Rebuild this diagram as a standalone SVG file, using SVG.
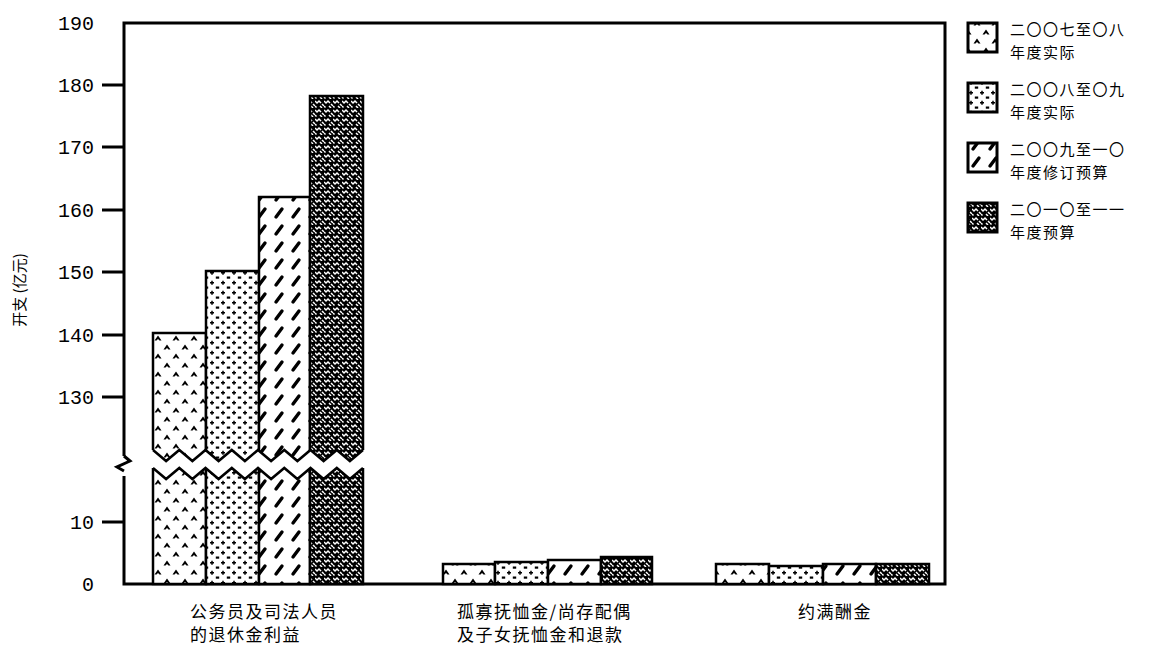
<svg xmlns="http://www.w3.org/2000/svg" width="1159" height="645" viewBox="0 0 1159 645">
<style>
.ax{stroke:#000;stroke-width:3;fill:none}
.bar{stroke:#000;stroke-width:2.5}
.tk{font-family:"Liberation Mono",monospace;font-size:20px;fill:#000;text-anchor:end}
.cj{font-family:"Noto Sans CJK SC","Noto Sans",sans-serif;font-size:17px;fill:#000;letter-spacing:1.5px}
.lg{font-family:"Noto Sans CJK SC","Noto Sans",sans-serif;font-size:15px;fill:#000;letter-spacing:1.5px}
.zz{stroke:#000;stroke-width:2.5;fill:none;stroke-linejoin:miter}
</style>
<defs>
<pattern id="p07" patternUnits="userSpaceOnUse" width="18" height="18">
<rect width="18" height="18" fill="#fff"/>
<path d="M1.5,7.5 L5,2.5 L8.5,7.5 L6.5,7.5 L5,6 L3.5,7.5 Z" fill="#000"/>
<path d="M10.5,16.5 L14,11.5 L17.5,16.5 L15.5,16.5 L14,15 L12.5,16.5 Z" fill="#000"/>
</pattern>
<pattern id="p08" patternUnits="userSpaceOnUse" width="11" height="10">
<rect width="11" height="10" fill="#fff"/>
<path d="M3,0.8 V4.8 M1,2.8 H5" stroke="#000" stroke-width="1.5"/>
<rect x="6.8" y="6.5" width="3.4" height="2.2" fill="#000"/>
</pattern>
<pattern id="p09" patternUnits="userSpaceOnUse" width="17" height="17">
<rect width="17" height="17" fill="#fff"/>
<path d="M4,13 L10,5" stroke="#000" stroke-width="3.4" stroke-linecap="round"/>
</pattern>
<pattern id="p10" patternUnits="userSpaceOnUse" width="9" height="9">
<rect width="9" height="9" fill="#000"/>
<path d="M0,2 L2,4 L4,2 L6,4 M5,7 L7,9 M7,5 L9,7 M0,7 L1.5,8.5" stroke="#fff" stroke-width="1.5" fill="none"/>
</pattern>
</defs>

<g id="axes">
<path class="ax" d="M124,456 V23 H945 V584 H124 V476"/>
<path class="ax" d="M124,456 L130,461 L117,467 L124,471" stroke-width="2.5"/>
<path class="ax" d="M102,85 H124 M102,147 H124 M102,210 H124 M102,272 H124 M102,335 H124 M102,397 H124 M102,522 H124"/>
<g id="ticklabels">
<text class="tk" x="94" y="30">190</text>
<text class="tk" x="94" y="92">180</text>
<text class="tk" x="94" y="154">170</text>
<text class="tk" x="94" y="217">160</text>
<text class="tk" x="94" y="279">150</text>
<text class="tk" x="94" y="342">140</text>
<text class="tk" x="94" y="404">130</text>
<text class="tk" x="94" y="529">10</text>
<text class="tk" x="94" y="591">0</text>
</g>
<text transform="translate(25,290) rotate(-90)" text-anchor="middle" style="font-family:'Noto Sans CJK SC','Noto Sans',sans-serif;font-size:15px">开支 (亿元)</text>
</g>

<g id="group1">
<rect class="bar" x="153" y="333" width="53" height="251" fill="url(#p07)"/>
<rect class="bar" x="206" y="271" width="53" height="313" fill="url(#p08)"/>
<rect class="bar" x="259" y="197" width="51" height="387" fill="url(#p09)"/>
<rect class="bar" x="310" y="96" width="53" height="488" fill="url(#p10)"/>
<polygon fill="#fff" points="151,450 153,450 166.1,461 179.3,450 192.4,461 205.5,450 218.6,461 231.8,450 244.9,461 258,450 271.1,461 284.3,450 297.4,461 310.5,450 323.6,461 336.8,450 349.9,461 363,450 365,450 365,468 363,468 349.9,479 336.8,468 323.6,479 310.5,468 297.4,479 284.3,468 271.1,479 258,468 244.9,479 231.8,468 218.6,479 205.5,468 192.4,479 179.3,468 166.1,479 153,468 151,468"/>
<polyline class="zz" points="153,450 166.1,461 179.3,450 192.4,461 205.5,450 218.6,461 231.8,450 244.9,461 258,450 271.1,461 284.3,450 297.4,461 310.5,450 323.6,461 336.8,450 349.9,461 363,450"/>
<polyline class="zz" points="153,468 166.1,479 179.3,468 192.4,479 205.5,468 218.6,479 231.8,468 244.9,479 258,468 271.1,479 284.3,468 297.4,479 310.5,468 323.6,479 336.8,468 349.9,479 363,468"/>
<text class="cj" x="190" y="618">公务员及司法人员</text>
<text class="cj" x="190" y="641">的退休金利益</text>
</g>

<g id="group2">
<rect class="bar" x="443" y="564" width="52" height="20" fill="url(#p07)"/>
<rect class="bar" x="495" y="562" width="53" height="22" fill="url(#p08)"/>
<rect class="bar" x="548" y="560" width="53" height="24" fill="url(#p09)"/>
<rect class="bar" x="601" y="557" width="51" height="27" fill="url(#p10)"/>
<text class="cj" x="457" y="618">孤寡抚恤金/尚存配偶</text>
<text class="cj" x="457" y="641">及子女抚恤金和退款</text>
</g>

<g id="group3">
<rect class="bar" x="716" y="564" width="53" height="20" fill="url(#p07)"/>
<rect class="bar" x="769" y="566" width="54" height="18" fill="url(#p08)"/>
<rect class="bar" x="823" y="564" width="53" height="20" fill="url(#p09)"/>
<rect class="bar" x="876" y="564" width="53" height="20" fill="url(#p10)"/>
<text class="cj" x="798" y="618">约满酬金</text>
</g>

<g id="legend">
<g id="leg1">
<rect x="968" y="23" width="29" height="29" fill="url(#p07)" stroke="#000" stroke-width="3"/>
<text class="lg" x="1010" y="35">二〇〇七至〇八</text>
<text class="lg" x="1010" y="58">年度实际</text>
</g>
<g id="leg2">
<rect x="968" y="83" width="29" height="29" fill="url(#p08)" stroke="#000" stroke-width="3"/>
<text class="lg" x="1010" y="95">二〇〇八至〇九</text>
<text class="lg" x="1010" y="118">年度实际</text>
</g>
<g id="leg3">
<rect x="968" y="143" width="29" height="29" fill="url(#p09)" stroke="#000" stroke-width="3"/>
<text class="lg" x="1010" y="155">二〇〇九至一〇</text>
<text class="lg" x="1010" y="178">年度修订预算</text>
</g>
<g id="leg4">
<rect x="968" y="203" width="29" height="29" fill="url(#p10)" stroke="#000" stroke-width="3"/>
<text class="lg" x="1010" y="215">二〇一〇至一一</text>
<text class="lg" x="1010" y="238">年度预算</text>
</g>
</g>
</svg>
